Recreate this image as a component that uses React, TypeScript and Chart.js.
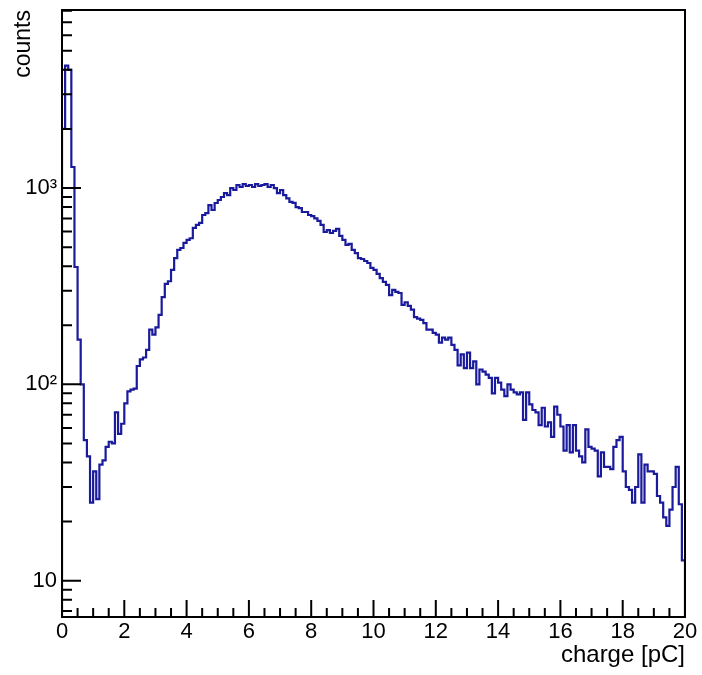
import React, { useEffect, useRef } from 'react';
import { Chart, registerables } from 'chart.js';

Chart.register(...registerables);

// Histogram range (pC) and bin width
const X_MIN = 0;
const X_MAX = 20;
const BIN_WIDTH = 0.1;

// Y axis range (log scale)
const Y_MIN = 6.53;
const Y_MAX = 8070;

// Bin contents (200 bins of 0.1 pC)
const counts: number[] = [
  2000, 4200, 4000, 1280, 396, 169, 100, 52, 43, 25,
  36, 26, 39, 41, 48, 51, 50, 72, 56, 63,
  80, 92, 94, 95, 124, 134, 137, 150, 190, 179,
  195, 226, 278, 325, 335, 383, 440, 484, 495, 525,
  544, 555, 626, 649, 665, 729, 745, 819, 773, 839,
  869, 900, 943, 921, 1000, 977, 1036, 1012, 1048, 1024,
  1036, 1012, 1048, 1024, 1036, 1048, 1012, 1036, 1000, 943,
  977, 921, 885, 850, 840, 800, 790, 755, 755, 729,
  720, 700, 680, 649, 597, 611, 590, 605, 620, 570,
  544, 513, 519, 484, 466, 440, 435, 425, 415, 392,
  383, 365, 348, 333, 321, 285, 303, 296, 292, 254,
  262, 251, 240, 220, 216, 213, 205, 190, 190, 183,
  179, 163, 173, 169, 173, 159, 150, 125, 142, 121,
  145, 121, 131, 100, 119, 116, 112, 108, 90, 108,
  102, 94, 87, 100, 94, 91, 89, 91, 66, 91,
  79, 74, 72, 62, 76, 61, 64, 54, 77, 70,
  61, 46, 62, 45, 62, 46, 43, 40, 59, 48,
  47, 46, 34, 45, 38, 38, 37, 48, 52, 54,
  36, 30, 29, 25, 30, 44, 25, 39, 36, 36,
  35, 27, 25, 21, 19, 23, 30, 38, 24.5, 12.7,
];

// Tick settings
const xMajorStep = 2;
const xMinorStep = 0.5;
const yDecadeLabels: Record<number, string> = { 1: '10', 2: '10²', 3: '10³' };

const FONT = 'Liberation Sans, Arial, Helvetica, sans-serif';
const LINE_COLOR = '#1a1a9c';

const framePlugin = {
  id: 'rootFrame',
  afterDraw(chart: any) {
    const { ctx, chartArea, scales } = chart;
    const { left, right, top, bottom } = chartArea;
    const xs = scales.x;
    const ys = scales.y;
    ctx.save();
    ctx.strokeStyle = '#000';
    ctx.lineWidth = 2;
    ctx.beginPath();
    const nMinor = Math.round((X_MAX - X_MIN) / xMinorStep);
    for (let i = 0; i <= nMinor; i++) {
      const v = X_MIN + i * xMinorStep;
      const px = xs.getPixelForValue(v);
      const r = v / xMajorStep;
      const major = Math.abs(r - Math.round(r)) < 1e-6;
      const len = major ? 17 : 9;
      ctx.moveTo(px, bottom);
      ctx.lineTo(px, bottom - len);
    }
    for (let e = 0; e <= 4; e++) {
      for (let m = 1; m <= 9; m++) {
        const v = m * Math.pow(10, e);
        if (v < Y_MIN || v > Y_MAX) continue;
        const py = ys.getPixelForValue(v);
        const len = m === 1 ? 19 : 10;
        ctx.moveTo(left, py);
        ctx.lineTo(left + len, py);
      }
    }
    ctx.stroke();
    ctx.lineWidth = 2;
    ctx.strokeRect(left, top, right - left, bottom - top);
    ctx.restore();
  },
};

export default function App() {
  const canvasRef = useRef<HTMLCanvasElement | null>(null);

  useEffect(() => {
    const canvas = canvasRef.current;
    if (!canvas) return;
    const points: { x: number; y: number }[] = [];
    points.push({ x: X_MIN, y: Y_MIN });
    counts.forEach((c, i) => points.push({ x: X_MIN + i * BIN_WIDTH, y: c }));
    points.push({ x: X_MAX, y: counts[counts.length - 1] });
    points.push({ x: X_MAX, y: Y_MIN });

    const chart = new Chart(canvas, {
      type: 'line',
      data: {
        datasets: [
          {
            label: 'charge',
            data: points,
            borderColor: LINE_COLOR,
            borderWidth: 2.2,
            pointRadius: 0,
            stepped: 'before',
            fill: false,
          },
        ],
      },
      options: {
        responsive: false,
        animation: false,
        layout: { padding: { top: 10, right: 17, bottom: 0, left: 0 } },
        plugins: {
          legend: { display: false },
          tooltip: { enabled: false },
        },
        scales: {
          x: {
            type: 'linear',
            min: X_MIN,
            max: X_MAX,
            grid: { display: false, drawTicks: false },
            border: { display: false },
            ticks: {
              stepSize: xMajorStep,
              autoSkip: false,
              maxRotation: 0,
              padding: 2,
              color: '#000',
              font: { family: FONT, size: 22 },
              callback: (v: any) => String(v),
            },
            title: {
              display: true,
              text: 'charge [pC]',
              align: 'end',
              color: '#000',
              font: { family: FONT, size: 24 },
              padding: { top: 0, bottom: 5 },
            },
            afterFit: (s: any) => {
              s.height = 58;
              s.paddingLeft = 0;
              s.paddingRight = 0;
            },
          },
          y: {
            type: 'logarithmic',
            min: Y_MIN,
            max: Y_MAX,
            grid: { display: false, drawTicks: false },
            border: { display: false },
            ticks: {
              autoSkip: false,
              padding: 5,
              color: '#000',
              font: { family: FONT, size: 22 },
              callback: (v: any) => {
                const l = Math.log10(Number(v));
                const r = Math.round(l);
                if (Math.abs(l - r) < 1e-6 && yDecadeLabels[r]) return yDecadeLabels[r];
                return '';
              },
            },
            title: {
              display: true,
              text: 'counts',
              align: 'end',
              color: '#000',
              font: { family: FONT, size: 23 },
              padding: { top: 10, bottom: 0 },
            },
            afterFit: (s: any) => {
              s.width = 62;
              s.paddingTop = 0;
              s.paddingBottom = 0;
            },
          },
        },
      },
      plugins: [framePlugin],
    } as any);

    return () => chart.destroy();
  }, []);

  return (
    <div style={{ position: 'fixed', left: 0, top: 0, width: 702, height: 675, background: '#fff' }}>
      <canvas ref={canvasRef} width={702} height={675} style={{ display: 'block' }} />
    </div>
  );
}
